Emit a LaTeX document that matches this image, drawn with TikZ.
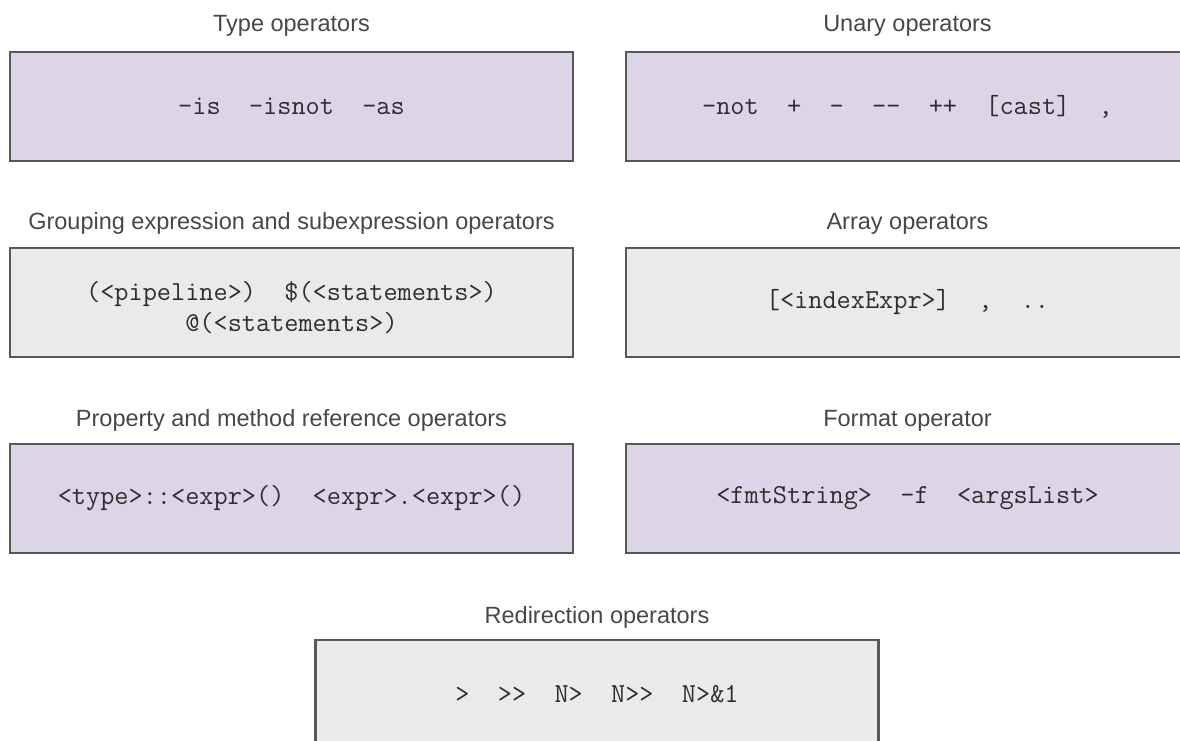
\documentclass[tikz,border=0pt]{standalone}
\usepackage{fontspec}
\setmainfont{Liberation Sans}
\definecolor{lilacfill}{HTML}{DCD5E7}
\definecolor{greyfill}{HTML}{E9EAEA}
\definecolor{boxedge}{HTML}{585858}
\definecolor{titlegray}{HTML}{474747}
\definecolor{codegray}{HTML}{2E2E2E}
\begin{document}
\begin{tikzpicture}[x=1pt,y=-1pt,
  title/.style={font=\fontsize{23.5}{28}\selectfont, text=titlegray, anchor=base, inner sep=0pt},
  codetext/.style={font=\ttfamily\fontsize{27.5}{31}\selectfont, text=codegray, align=center, inner sep=0pt},
  opbox/.style={draw=boxedge, line width=2.5pt, minimum width=563pt, minimum height=109pt,
    codetext},
  lilac/.style={opbox, fill=lilacfill},
  greybox/.style={opbox, fill=greyfill}]
\useasboundingbox (0,0) rectangle (1180,741);
\clip (0,0) rectangle (1180,741);
% row 1
\node[title] (t1) at (291.5,32) {Type operators};
\node[lilac] (b1) at (291.5,106.5) {-is~~-isnot~~-as};
\node[title] (t2) at (907.5,32) {Unary operators};
\node[lilac] (b2) at (907.5,106.5) {-not~~+~~-~~-{}-~~+{}+~~[cast]~~,};
% row 2
\node[title] (t3) at (291.5,229) {Grouping expression and subexpression operators};
\node[greybox] (b3) at (291.5,302.5) {};
\node[codetext] (b3text) at (291.5,308) {(<pipeline>)~~\$(<statements>)\\@(<statements>)};
\node[title] (t4) at (907.5,229) {Array operators};
\node[greybox] (b4) at (907.5,302.5) {[<indexExpr>]~~,~~..};
% row 3
\node[title] (t5) at (291.5,426) {Property and method reference operators};
\node[lilac] (b5) at (291.5,498.5) {<type>::<expr>()~~<expr>.<expr>()};
\node[title] (t6) at (907.5,426) {Format operator};
\node[lilac] (b6) at (907.5,498.5) {<fmtString>~~-f~~<argsList>};
% row 4
\node[title] (t7) at (597,623) {Redirection operators};
\node[greybox] (b7) at (597,694.5) {>~~>{}>~~N>~~N>{}>~~N>\&1};
\end{tikzpicture}
\end{document}
